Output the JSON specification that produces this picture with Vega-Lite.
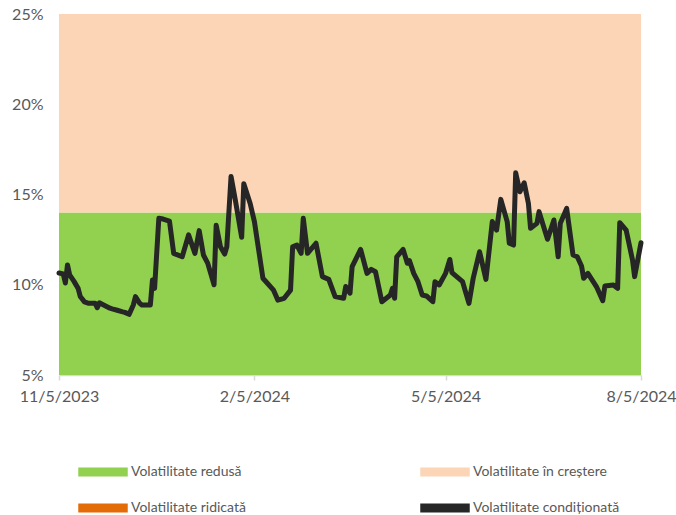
{
  "$schema": "https://vega.github.io/schema/vega-lite/v6.json",
  "width": 582,
  "height": 361,
  "autosize": {"type": "none"},
  "padding": {"left": 59, "top": 14, "right": 35, "bottom": 140},
  "background": "white",
  "config": {
    "view": {"stroke": null},
    "font": "Lato",
    "axis": {"labelFont": "Lato", "labelColor": "#595959", "labelFontSize": 16, "grid": false, "titleFontSize": 0}
  },
  "datasets": {
    "bands": [
      {"band": "Volatilitate redusă", "lo": 5, "hi": 14},
      {"band": "Volatilitate în creștere", "lo": 14, "hi": 25}
    ],
    "series": [
      {"date": "2023-11-05", "v": 10.65},
      {"date": "2023-11-07", "v": 10.6},
      {"date": "2023-11-08", "v": 10.1},
      {"date": "2023-11-09", "v": 11.1},
      {"date": "2023-11-10", "v": 10.55},
      {"date": "2023-11-12", "v": 10.2},
      {"date": "2023-11-14", "v": 9.8},
      {"date": "2023-11-15", "v": 9.35},
      {"date": "2023-11-17", "v": 9.05},
      {"date": "2023-11-19", "v": 8.97},
      {"date": "2023-11-22", "v": 8.97},
      {"date": "2023-11-23", "v": 8.73},
      {"date": "2023-11-24", "v": 9.0},
      {"date": "2023-11-26", "v": 8.88},
      {"date": "2023-11-29", "v": 8.7},
      {"date": "2023-11-30", "v": 8.66},
      {"date": "2023-12-02", "v": 8.6},
      {"date": "2023-12-05", "v": 8.5},
      {"date": "2023-12-06", "v": 8.47},
      {"date": "2023-12-08", "v": 8.36},
      {"date": "2023-12-10", "v": 8.88},
      {"date": "2023-12-11", "v": 9.34},
      {"date": "2023-12-13", "v": 8.97},
      {"date": "2023-12-14", "v": 8.88},
      {"date": "2023-12-18", "v": 8.88},
      {"date": "2023-12-19", "v": 10.26},
      {"date": "2023-12-20", "v": 9.8},
      {"date": "2023-12-22", "v": 13.68},
      {"date": "2023-12-24", "v": 13.64},
      {"date": "2023-12-27", "v": 13.53},
      {"date": "2023-12-29", "v": 11.74},
      {"date": "2024-01-02", "v": 11.55},
      {"date": "2024-01-05", "v": 12.76},
      {"date": "2024-01-08", "v": 11.74},
      {"date": "2024-01-10", "v": 13.0},
      {"date": "2024-01-12", "v": 11.65},
      {"date": "2024-01-14", "v": 11.2},
      {"date": "2024-01-17", "v": 10.0},
      {"date": "2024-01-18", "v": 13.3},
      {"date": "2024-01-20", "v": 12.1},
      {"date": "2024-01-22", "v": 11.7},
      {"date": "2024-01-23", "v": 12.1},
      {"date": "2024-01-25", "v": 16.0},
      {"date": "2024-01-27", "v": 14.7},
      {"date": "2024-01-30", "v": 12.63},
      {"date": "2024-01-31", "v": 15.6},
      {"date": "2024-02-03", "v": 14.5},
      {"date": "2024-02-05", "v": 13.5},
      {"date": "2024-02-09", "v": 10.36},
      {"date": "2024-02-14", "v": 9.7},
      {"date": "2024-02-15", "v": 9.43},
      {"date": "2024-02-16", "v": 9.15},
      {"date": "2024-02-19", "v": 9.25},
      {"date": "2024-02-22", "v": 9.7},
      {"date": "2024-02-23", "v": 12.1},
      {"date": "2024-02-25", "v": 12.2},
      {"date": "2024-02-27", "v": 11.74},
      {"date": "2024-02-28", "v": 13.68},
      {"date": "2024-03-01", "v": 11.74},
      {"date": "2024-03-05", "v": 12.3},
      {"date": "2024-03-08", "v": 10.45},
      {"date": "2024-03-11", "v": 10.3},
      {"date": "2024-03-14", "v": 9.34},
      {"date": "2024-03-18", "v": 9.25},
      {"date": "2024-03-19", "v": 9.9},
      {"date": "2024-03-21", "v": 9.53},
      {"date": "2024-03-22", "v": 11.0},
      {"date": "2024-03-26", "v": 11.96},
      {"date": "2024-03-29", "v": 10.63},
      {"date": "2024-03-31", "v": 10.85},
      {"date": "2024-04-02", "v": 10.72},
      {"date": "2024-04-05", "v": 9.06},
      {"date": "2024-04-09", "v": 9.43},
      {"date": "2024-04-10", "v": 9.8},
      {"date": "2024-04-11", "v": 9.25},
      {"date": "2024-04-12", "v": 11.55},
      {"date": "2024-04-15", "v": 11.96},
      {"date": "2024-04-17", "v": 11.19},
      {"date": "2024-04-18", "v": 11.33},
      {"date": "2024-04-20", "v": 10.63},
      {"date": "2024-04-22", "v": 10.17},
      {"date": "2024-04-24", "v": 9.43},
      {"date": "2024-04-26", "v": 9.38},
      {"date": "2024-04-29", "v": 9.06},
      {"date": "2024-04-30", "v": 10.17},
      {"date": "2024-05-02", "v": 9.99},
      {"date": "2024-05-05", "v": 10.63},
      {"date": "2024-05-07", "v": 11.4},
      {"date": "2024-05-08", "v": 10.67},
      {"date": "2024-05-13", "v": 10.17},
      {"date": "2024-05-16", "v": 8.97},
      {"date": "2024-05-18", "v": 10.36},
      {"date": "2024-05-21", "v": 11.83},
      {"date": "2024-05-24", "v": 10.3},
      {"date": "2024-05-27", "v": 13.5},
      {"date": "2024-05-29", "v": 13.03},
      {"date": "2024-05-31", "v": 14.73},
      {"date": "2024-06-03", "v": 13.5},
      {"date": "2024-06-04", "v": 12.3},
      {"date": "2024-06-06", "v": 12.2},
      {"date": "2024-06-07", "v": 16.2},
      {"date": "2024-06-09", "v": 15.15},
      {"date": "2024-06-11", "v": 15.65},
      {"date": "2024-06-13", "v": 14.5},
      {"date": "2024-06-14", "v": 13.13},
      {"date": "2024-06-17", "v": 13.4},
      {"date": "2024-06-18", "v": 14.05},
      {"date": "2024-06-22", "v": 12.52},
      {"date": "2024-06-25", "v": 13.59},
      {"date": "2024-06-27", "v": 11.55},
      {"date": "2024-06-28", "v": 13.4},
      {"date": "2024-07-01", "v": 14.23},
      {"date": "2024-07-04", "v": 11.65},
      {"date": "2024-07-06", "v": 11.55},
      {"date": "2024-07-08", "v": 11.04},
      {"date": "2024-07-09", "v": 10.36},
      {"date": "2024-07-11", "v": 10.63},
      {"date": "2024-07-15", "v": 9.9},
      {"date": "2024-07-18", "v": 9.12},
      {"date": "2024-07-19", "v": 9.93},
      {"date": "2024-07-23", "v": 9.99},
      {"date": "2024-07-25", "v": 9.8},
      {"date": "2024-07-26", "v": 13.44},
      {"date": "2024-07-29", "v": 13.03},
      {"date": "2024-08-01", "v": 11.37},
      {"date": "2024-08-02", "v": 10.45},
      {"date": "2024-08-05", "v": 12.33}
    ]
  },
  "layer": [
    {
      "data": {"name": "bands"},
      "mark": {"type": "rect"},
      "encoding": {
        "y": {"field": "lo", "type": "quantitative", "scale": {"domain": [5, 25], "nice": false},
          "axis": {"values": [5, 10, 15, 20, 25], "labelExpr": "datum.value + '%'", "ticks": false, "domain": false, "labelPadding": 16, "title": null}},
        "y2": {"field": "hi"},
        "color": {
          "field": "band", "type": "nominal",
          "scale": {
            "domain": ["Volatilitate redusă", "Volatilitate ridicată", "Volatilitate în creștere", "Volatilitate condiționată"],
            "range": ["#92D050", "#E36C09", "#FBD5B5", "#262626"]
          },
          "legend": {
            "title": null,
            "orient": "none",
            "legendX": 37,
            "legendY": 451,
            "columns": 2,
            "columnPadding": 174,
            "rowPadding": 22,
            "symbolType": "M-5.5,-1H5.5V1H-5.5Z",
            "symbolSize": 81,
            "symbolStrokeWidth": 0,
            "symbolOpacity": 1,
            "labelFont": "Lato",
            "labelFontSize": 14,
            "labelColor": "#595959",
            "labelOffset": 21,
            "labelLimit": 300
          }
        }
      }
    },
    {
      "data": {"name": "series"},
      "mark": {"type": "line", "color": "#262626", "strokeWidth": 5, "strokeJoin": "round", "strokeCap": "round"},
      "encoding": {
        "x": {
          "field": "date", "type": "temporal",
          "scale": {"type": "utc", "domain": [{"year": 2023, "month": 11, "date": 5, "utc": true}, {"year": 2024, "month": 8, "date": 5, "utc": true}]},
          "axis": {
            "values": [
              {"year": 2023, "month": 11, "date": 5, "utc": true},
              {"year": 2024, "month": 2, "date": 5, "utc": true},
              {"year": 2024, "month": 5, "date": 5, "utc": true},
              {"year": 2024, "month": 8, "date": 5, "utc": true}
            ],
            "labelExpr": "utcFormat(datum.value, '%-m/%-d/%Y')",
            "domainColor": "#D9D9D9",
            "domainWidth": 1.5,
            "tickColor": "#D9D9D9",
            "tickWidth": 1.5,
            "tickSize": 5,
            "labelPadding": 8,
            "labelFlush": false,
            "labelOverlap": false,
            "title": null
          }
        },
        "y": {"field": "v", "type": "quantitative"}
      }
    }
  ]
}
